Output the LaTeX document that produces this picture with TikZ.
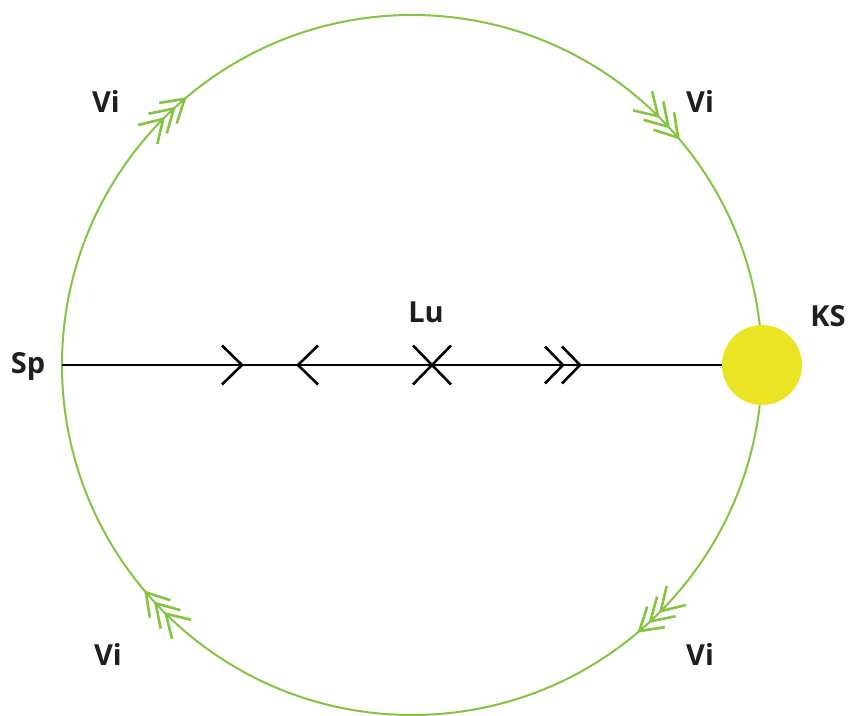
\documentclass[tikz,border=0pt]{standalone}
\usepackage{fontspec}
\setmainfont{Open Sans}
\usepackage{tikz}
\definecolor{orbitgreen}{RGB}{132,196,65}
\definecolor{ksyellow}{RGB}{234,228,36}

\begin{document}
\begin{tikzpicture}[x=1pt,y=1pt,
    lbl/.style={font=\fontsize{29}{34}\selectfont\bfseries, text=black!88},
    tick/.style={line width=2.6pt}]
    % picture is 850 x 715 px, circle of radius 350 centred at (412,365) px
    \useasboundingbox (-412,-350) rectangle (438,365);
    \draw[orbitgreen, line width=2pt] (0,0) circle (350pt);
    % three chevrons per quarter, all running clockwise
    \foreach \a in {130.5,40.5,-49.5,-139.5} \foreach \k in {0,1,2} {
      \pgfmathsetmacro\p{\a+2.4*\k}
      \draw[orbitgreen, tick, shift={(\p:350pt)}, rotate=\p-90]
        (-22,13.5) -- (0,0) -- (-22,-13.5);
    }
    \coordinate (sp) at (-350,0);
    \node[circle, fill=ksyellow, minimum size=80pt, inner sep=0pt] (ks) at (350,0) {};
    \draw[line width=2pt] (sp) -- (ks);
    % marks on the axis
    \draw[tick] (-190,19.5) -- (-170,0) -- (-190,-19.5);
    \draw[tick] (-94,19.5) -- (-114,0) -- (-94,-19.5);
    \draw[tick] (1,19.5) -- (39,-19.5) (1,-19.5) -- (39,19.5);
    \foreach \t in {151,168}
      \draw[tick] (\t-18,18.5) -- (\t,0) -- (\t-18,-18.5);
    \node[lbl] (sp-lbl) at (-384,-1) {Sp};
    \node[lbl] (lu-lbl) at (14,53) {Lu};
    \node[lbl] (ks-lbl) at (416,49) {KS};
    \node[lbl] (vi-nw) at (-306,264) {Vi};
    \node[lbl] (vi-ne) at (288,264) {Vi};
    \node[lbl] (vi-sw) at (-304,-289) {Vi};
    \node[lbl] (vi-se) at (288,-289) {Vi};
\end{tikzpicture}
\end{document}
